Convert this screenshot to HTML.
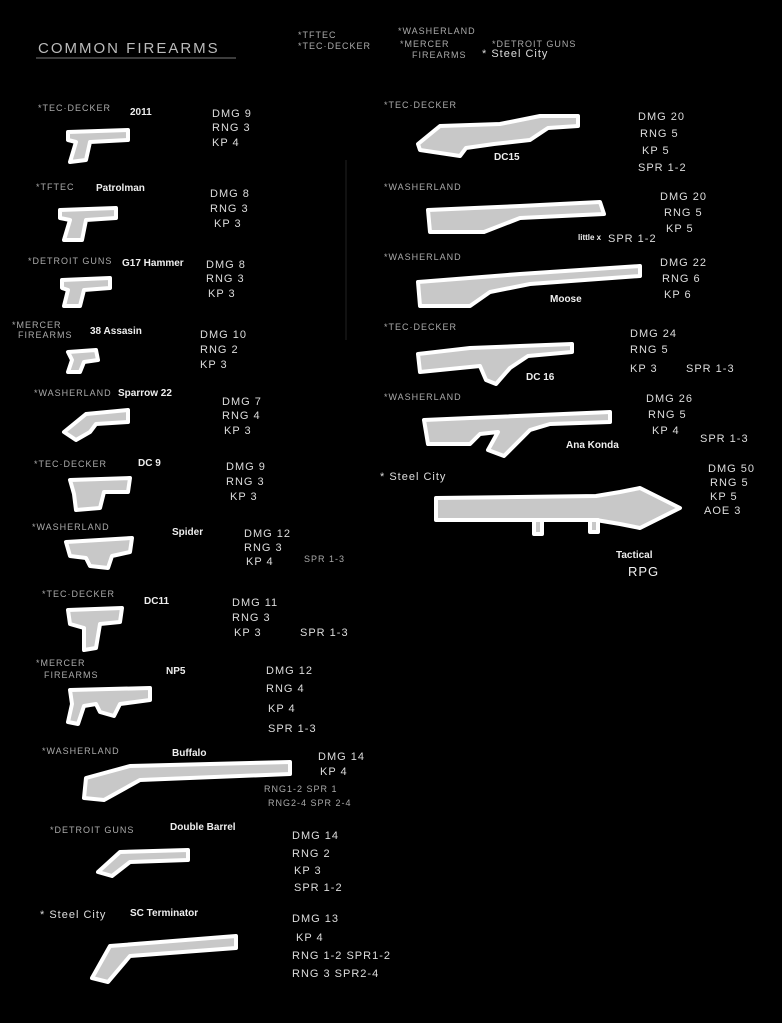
<!DOCTYPE html>
<html><head><meta charset="utf-8"><style>
html,body{margin:0;padding:0;background:#000;}
svg{display:block}
text{font-family:"Liberation Sans",sans-serif;fill:#ddd;}
.s{font-size:9px;fill:#aaa;letter-spacing:1px}
.n{font-size:10px;font-weight:bold;fill:#eee}
.st{font-size:11px;fill:#ddd;letter-spacing:1px}
.g{fill:#c8c8c8;stroke:#fff;stroke-width:4;stroke-linejoin:round}
</style></head><body>
<svg width="782" height="1023" viewBox="0 0 782 1023" xmlns="http://www.w3.org/2000/svg">
<rect width="782" height="1023" fill="#000"/>
<text x="38" y="53" style="font-size:15px;fill:#bbb;letter-spacing:2px">COMMON FIREARMS</text>
<line x1="36" y1="58" x2="236" y2="58" stroke="#777" stroke-width="1"/>
<text class="s" x="298" y="38">*TFTEC</text><text class="s" x="298" y="49">*TEC·DECKER</text>
<text class="s" x="398" y="34">*WASHERLAND</text><text class="s" x="400" y="47">*MERCER</text><text class="s" x="412" y="58">FIREARMS</text>
<text class="s" x="492" y="47">*DETROIT GUNS</text><text class="st" x="482" y="57">* Steel City</text>
<line x1="346" y1="160" x2="346" y2="340" stroke="#222"/>

<!-- left column -->
<text class="s" x="38" y="111">*TEC·DECKER</text><text class="n" x="130" y="115">2011</text>
<text class="st" x="212" y="117">DMG 9</text><text class="st" x="212" y="131">RNG 3</text><text class="st" x="212" y="146">KP 4</text>
<polygon class="g" points="68,132 128,130 128,140 90,142 86,160 70,162 76,142 68,140"/>

<text class="s" x="36" y="190">*TFTEC</text><text class="n" x="96" y="191">Patrolman</text>
<text class="st" x="210" y="197">DMG 8</text><text class="st" x="210" y="212">RNG 3</text><text class="st" x="214" y="227">KP 3</text>
<polygon class="g" points="60,210 116,208 116,218 86,220 82,240 64,240 70,220 60,218"/>

<text class="s" x="28" y="264">*DETROIT GUNS</text><text class="n" x="122" y="266">G17 Hammer</text>
<text class="st" x="206" y="268">DMG 8</text><text class="st" x="206" y="282">RNG 3</text><text class="st" x="208" y="297">KP 3</text>
<polygon class="g" points="62,280 110,278 110,288 84,290 80,306 64,306 68,290 62,288"/>

<text class="s" x="12" y="328">*MERCER</text><text class="s" x="18" y="338">FIREARMS</text><text class="n" x="90" y="334">38 Assasin</text>
<text class="st" x="200" y="338">DMG 10</text><text class="st" x="200" y="353">RNG 2</text><text class="st" x="200" y="368">KP 3</text>
<polygon class="g" points="68,352 96,350 98,360 84,362 80,372 68,372 72,360"/>

<text class="s" x="34" y="396">*WASHERLAND</text><text class="n" x="118" y="396">Sparrow 22</text>
<text class="st" x="222" y="405">DMG 7</text><text class="st" x="222" y="419">RNG 4</text><text class="st" x="224" y="434">KP 3</text>
<polygon class="g" points="64,432 86,414 128,410 128,422 96,424 90,432 76,440"/>

<text class="s" x="34" y="467">*TEC·DECKER</text><text class="n" x="138" y="466">DC 9</text>
<text class="st" x="226" y="470">DMG 9</text><text class="st" x="226" y="485">RNG 3</text><text class="st" x="230" y="500">KP 3</text>
<polygon class="g" points="70,480 130,478 128,492 104,492 100,508 76,510 74,494"/>

<text class="s" x="32" y="530">*WASHERLAND</text><text class="n" x="172" y="535">Spider</text>
<text class="st" x="244" y="537">DMG 12</text><text class="st" x="244" y="551">RNG 3</text><text class="st" x="246" y="565">KP 4</text><text class="s" x="304" y="562">SPR 1-3</text>
<polygon class="g" points="66,542 132,538 130,552 112,556 108,568 90,566 86,558 70,556"/>

<text class="s" x="42" y="597">*TEC·DECKER</text><text class="n" x="144" y="604">DC11</text>
<text class="st" x="232" y="606">DMG 11</text><text class="st" x="232" y="621">RNG 3</text><text class="st" x="234" y="636">KP 3</text><text class="st" x="300" y="636">SPR 1-3</text>
<polygon class="g" points="68,610 122,608 120,622 100,624 96,648 84,650 84,628 70,624"/>

<text class="s" x="36" y="666">*MERCER</text><text class="s" x="44" y="678">FIREARMS</text><text class="n" x="166" y="674">NP5</text>
<text class="st" x="266" y="674">DMG 12</text><text class="st" x="266" y="692">RNG 4</text><text class="st" x="268" y="712">KP 4</text><text class="st" x="268" y="732">SPR 1-3</text>
<polygon class="g" points="70,690 150,688 150,700 120,704 114,716 100,712 96,704 84,706 78,724 68,722 72,704"/>

<text class="s" x="42" y="754">*WASHERLAND</text><text class="n" x="172" y="756">Buffalo</text>
<text class="st" x="318" y="760">DMG 14</text><text class="st" x="320" y="775">KP 4</text><text class="s" x="264" y="792">RNG1-2 SPR 1</text><text class="s" x="268" y="806">RNG2-4 SPR 2-4</text>
<polygon class="g" points="86,778 130,766 290,762 290,774 140,780 104,800 84,798"/>

<text class="s" x="50" y="833">*DETROIT GUNS</text><text class="n" x="170" y="830">Double Barrel</text>
<text class="st" x="292" y="839">DMG 14</text><text class="st" x="292" y="857">RNG 2</text><text class="st" x="294" y="874">KP 3</text><text class="st" x="294" y="891">SPR 1-2</text>
<polygon class="g" points="98,872 120,852 188,850 188,860 130,862 112,876"/>

<text class="st" x="40" y="918">* Steel City</text><text class="n" x="130" y="916">SC Terminator</text>
<text class="st" x="292" y="922">DMG 13</text><text class="st" x="296" y="941">KP 4</text><text class="st" x="292" y="959">RNG 1-2 SPR1-2</text><text class="st" x="292" y="977">RNG 3  SPR2-4</text>
<polygon class="g" points="92,978 110,946 236,936 236,948 130,956 108,982"/>

<!-- right column -->
<text class="s" x="384" y="108">*TEC·DECKER</text>
<text class="st" x="638" y="120">DMG 20</text><text class="st" x="640" y="137">RNG 5</text><text class="st" x="642" y="154">KP 5</text><text class="st" x="638" y="171">SPR 1-2</text>
<polygon class="g" points="418,144 440,126 500,124 540,116 578,116 578,126 548,128 530,140 494,144 466,148 460,156 420,150"/>
<text class="n" x="494" y="160">DC15</text>

<text class="s" x="384" y="190">*WASHERLAND</text>
<text class="st" x="660" y="200">DMG 20</text><text class="st" x="664" y="216">RNG 5</text><text class="st" x="666" y="232">KP 5</text><text class="st" x="608" y="242">SPR 1-2</text>
<polygon class="g" points="428,210 520,206 600,202 604,214 520,218 484,232 430,232"/>
<text class="n" x="578" y="240" style="font-size:8px">little x</text>

<text class="s" x="384" y="260">*WASHERLAND</text>
<text class="st" x="660" y="266">DMG 22</text><text class="st" x="662" y="282">RNG 6</text><text class="st" x="664" y="298">KP 6</text>
<polygon class="g" points="418,282 520,274 640,266 640,276 530,284 490,292 470,306 420,306"/>
<text class="n" x="550" y="302">Moose</text>

<text class="s" x="384" y="330">*TEC·DECKER</text>
<text class="st" x="630" y="337">DMG 24</text><text class="st" x="630" y="353">RNG 5</text><text class="st" x="630" y="372">KP 3</text><text class="st" x="686" y="372">SPR 1-3</text>
<polygon class="g" points="418,354 470,348 520,346 572,344 572,352 528,356 510,368 496,384 486,380 480,366 420,372"/>
<text class="n" x="526" y="380">DC 16</text>

<text class="s" x="384" y="400">*WASHERLAND</text>
<text class="st" x="646" y="402">DMG 26</text><text class="st" x="648" y="418">RNG 5</text><text class="st" x="652" y="434">KP 4</text><text class="st" x="700" y="442">SPR 1-3</text>
<polygon class="g" points="424,420 470,418 610,412 610,422 550,424 530,430 504,456 488,450 498,432 480,434 470,444 428,444"/>
<text class="n" x="566" y="448">Ana Konda</text>

<text class="st" x="380" y="480">* Steel City</text>
<text class="st" x="708" y="472">DMG 50</text><text class="st" x="710" y="486">RNG 5</text><text class="st" x="710" y="500">KP 5</text><text class="st" x="704" y="514">AOE 3</text>
<polygon class="g" points="436,498 596,496 620,492 640,488 680,508 640,528 620,524 596,520 436,520"/>
<rect x="534" y="520" width="8" height="14" class="g"/><rect x="590" y="520" width="8" height="12" class="g"/>
<text class="n" x="616" y="558">Tactical</text><text x="628" y="576" style="font-size:13px;fill:#eee;letter-spacing:1px">RPG</text>
</svg>
</body></html>
